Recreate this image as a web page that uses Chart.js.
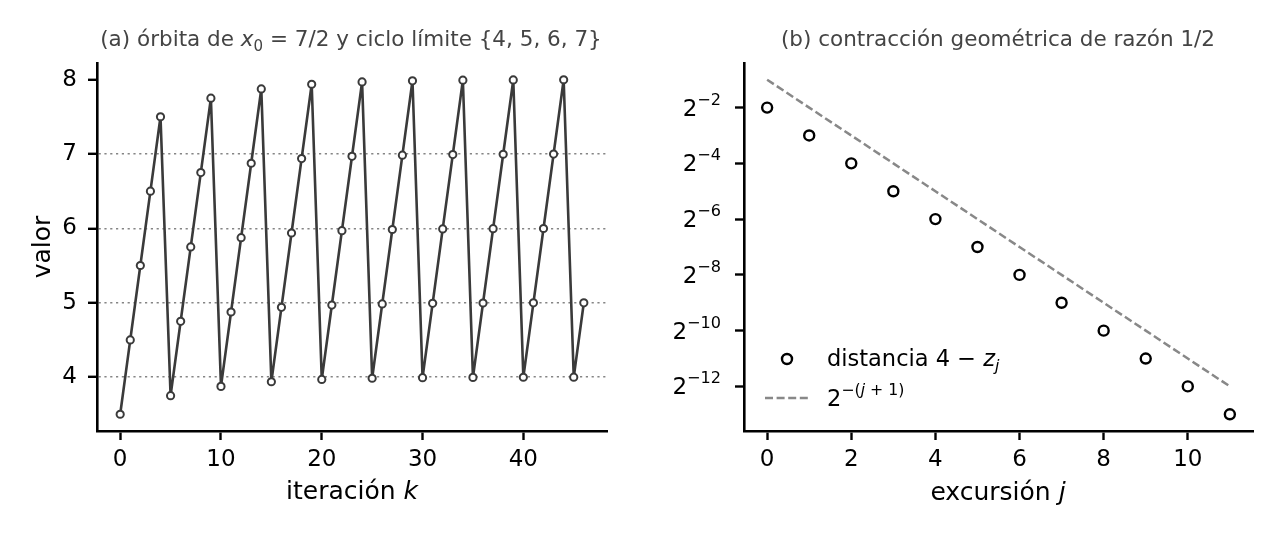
<!DOCTYPE html>
<html>
<head>
<meta charset="utf-8">
<script src="https://cdn.jsdelivr.net/npm/chart.js@4.4.0/dist/chart.umd.min.js"></script>
<style>
  html, body { margin: 0; padding: 0; background: #fff; }
  #wrap { position: relative; width: 1280px; height: 540px; }
  canvas { position: absolute; top: 0; }
  #izq { left: 0; }
  #der { left: 640px; }
</style>
</head>
<body>
<div id="wrap">
  <canvas id="izq" width="640" height="540"></canvas>
  <canvas id="der" width="640" height="540"></canvas>
</div>
<script>
// (a) órbita
const iteraciones = [0, 1, 2, 3, 4, 5, 6, 7, 8, 9, 10, 11, 12, 13, 14, 15, 16, 17, 18, 19, 20, 21, 22, 23,
  24, 25, 26, 27, 28, 29, 30, 31, 32, 33, 34, 35, 36, 37, 38, 39, 40, 41, 42, 43, 44, 45, 46];
const orbita = [
  3.5, 4.5, 5.5, 6.5, 7.5,
  3.75, 4.75, 5.75, 6.75, 7.75,
  3.875, 4.875, 5.875, 6.875, 7.875,
  3.9375, 4.9375, 5.9375, 6.9375, 7.9375,
  3.96875, 4.96875, 5.96875, 6.96875, 7.96875,
  3.984, 4.984, 5.984, 6.984, 7.984,
  3.992, 4.992, 5.992, 6.992, 7.992,
  3.996, 4.996, 5.996, 6.996, 7.996,
  3.998, 4.998, 5.998, 6.998, 7.998,
  3.999, 4.999
];
const nivelesCiclo = [4, 5, 6, 7];
const ticksValor = [4, 5, 6, 7, 8];
const ticksIter = [0, 10, 20, 30, 40];

// (b) contracción
const excursiones = [0, 1, 2, 3, 4, 5, 6, 7, 8, 9, 10, 11];
const distancias = [0.25, 0.125, 0.0625, 0.03125, 0.015625, 0.0078125, 0.00390625,
  0.001953125, 0.0009765625, 0.00048828125, 0.000244140625, 0.0001220703125];
const cotaRef = [0.5, 0.25, 0.125, 0.0625, 0.03125, 0.015625, 0.0078125, 0.00390625,
  0.001953125, 0.0009765625, 0.00048828125, 0.000244140625];
const ticksExc = [0, 2, 4, 6, 8, 10];
const expTicks = [-2, -4, -6, -8, -10, -12];

const FAM = '"DejaVu Sans"';
Chart.defaults.font.family = FAM;
Chart.defaults.color = '#000';

// texto con cursiva / subíndices / superíndices
function fuente(ctx, r, size) {
  const s = (r.sub || r.sup) ? size * 0.7 : size;
  ctx.font = (r.it ? 'italic ' : '') + s + 'px ' + FAM;
}
function drawRuns(ctx, runs, x, y, size, color, align) {
  ctx.save();
  ctx.fillStyle = color;
  ctx.textAlign = 'left';
  ctx.textBaseline = 'alphabetic';
  let w = 0;
  runs.forEach(r => { fuente(ctx, r, size); w += ctx.measureText(r.t).width; });
  let cx = align === 'center' ? x - w / 2 : (align === 'right' ? x - w : x);
  runs.forEach(r => {
    fuente(ctx, r, size);
    const dy = r.sub ? size * 0.22 : (r.sup ? -size * 0.48 : 0);
    ctx.fillText(r.t, cx, y + dy);
    cx += ctx.measureText(r.t).width;
  });
  ctx.restore();
}
function textos(ctx, items) {
  items.forEach(it => {
    ctx.save();
    ctx.translate(it.x, it.y);
    if (it.rot) ctx.rotate(it.rot);
    drawRuns(ctx, it.runs, 0, 0, it.size, it.color || '#000', it.align || 'center');
    ctx.restore();
  });
}

const ejeX = (min, max, ticks) => ({
  type: 'linear', min: min, max: max,
  afterBuildTicks: s => { s.ticks = ticks.map(v => ({ value: v })); },
  afterFit: s => { s.height = 109; },
  grid: { drawOnChartArea: false, tickLength: 9, tickWidth: 2.4, tickColor: '#000' },
  border: { color: '#000', width: 2.6 },
  ticks: { font: { size: 23 }, color: '#000', padding: 6, maxRotation: 0, autoSkip: false }
});

new Chart(document.getElementById('izq'), {
  type: 'line',
  data: {
    datasets: [{
      data: iteraciones.map((k, i) => ({ x: k, y: orbita[i] })),
      borderColor: '#3a3a3a',
      borderWidth: 2.6,
      pointRadius: 3.6,
      pointBorderWidth: 2,
      pointBorderColor: '#3a3a3a',
      pointBackgroundColor: '#fff',
      tension: 0
    }]
  },
  options: {
    responsive: false, animation: false, devicePixelRatio: 1,
    layout: { padding: { left: 0, right: 33, top: 63, bottom: 0 } },
    plugins: { legend: { display: false }, tooltip: { enabled: false } },
    scales: {
      x: ejeX(-2.3, 48.3, ticksIter),
      y: {
        min: 3.275, max: 8.223,
        afterBuildTicks: s => { s.ticks = ticksValor.map(v => ({ value: v })); },
        afterFit: s => { s.width = 97; },
        grid: {
          color: c => (c.tick && nivelesCiclo.includes(c.tick.value)) ? '#858585' : 'rgba(0,0,0,0)',
          lineWidth: 1.6, tickLength: 9, tickWidth: 2.4, tickColor: '#000'
        },
        border: { color: '#000', width: 2.6, dash: [2.2, 3.6] },
        ticks: { font: { size: 23 }, color: '#000', padding: 11 }
      }
    }
  },
  plugins: [{
    id: 'textosIzq',
    afterDraw(chart) {
      textos(chart.ctx, [
        { x: 351, y: 46, size: 21.5, color: '#444', runs: [
          { t: '(a) órbita de ' }, { t: 'x', it: true }, { t: '0', sub: true },
          { t: ' = 7/2 y ciclo límite {4, 5, 6, 7}' }] },
        { x: 352, y: 499, size: 25, runs: [{ t: 'iteración ' }, { t: 'k', it: true }] },
        { x: 50, y: 247, size: 25, rot: -Math.PI / 2, runs: [{ t: 'valor' }] }
      ]);
    }
  }]
});

new Chart(document.getElementById('der'), {
  type: 'scatter',
  data: {
    datasets: [{
      data: excursiones.map((j, i) => ({ x: j, y: distancias[i] })),
      pointRadius: 5,
      pointBorderWidth: 2.4,
      pointBorderColor: '#000',
      pointBackgroundColor: 'rgba(0,0,0,0)'
    }, {
      data: excursiones.map((j, i) => ({ x: j, y: cotaRef[i] })),
      showLine: true,
      borderColor: '#888',
      borderWidth: 2.5,
      borderDash: [8, 3.6],
      pointRadius: 0
    }]
  },
  options: {
    responsive: false, animation: false, devicePixelRatio: 1,
    layout: { padding: { left: 0, right: 27, top: 63, bottom: 0 } },
    plugins: { legend: { display: false }, tooltip: { enabled: false } },
    scales: {
      x: ejeX(-0.55, 11.55, ticksExc),
      y: {
        type: 'logarithmic',
        min: Math.pow(2, -13.6), max: Math.pow(2, -0.4),
        afterBuildTicks: s => { s.ticks = expTicks.map(e => ({ value: Math.pow(2, e) })); },
        afterFit: s => { s.width = 104; },
        grid: { drawOnChartArea: false, tickLength: 9, tickWidth: 2.4, tickColor: '#000' },
        border: { color: '#000', width: 2.6 },
        ticks: { display: false }
      }
    }
  },
  plugins: [{
    id: 'textosDer',
    afterDraw(chart) {
      const ctx = chart.ctx;
      const ys = chart.scales.y;
      const left = chart.chartArea.left;
      expTicks.forEach(e => {
        const py = ys.getPixelForValue(Math.pow(2, e));
        drawRuns(ctx, [{ t: '2' }, { t: '−' + (-e), sup: true }], left - 23, py + 8, 23, '#000', 'right');
      });
      // leyenda
      ctx.save();
      ctx.lineWidth = 2.4;
      ctx.strokeStyle = '#000';
      ctx.beginPath();
      ctx.arc(147, 359, 5, 0, Math.PI * 2);
      ctx.stroke();
      ctx.strokeStyle = '#888';
      ctx.lineWidth = 2.5;
      ctx.setLineDash([8, 3.6]);
      ctx.beginPath();
      ctx.moveTo(125, 398);
      ctx.lineTo(170, 398);
      ctx.stroke();
      ctx.restore();
      textos(ctx, [
        { x: 187, y: 366, size: 22.5, align: 'left', runs: [
          { t: 'distancia 4 − ' }, { t: 'z', it: true }, { t: 'j', it: true, sub: true }] },
        { x: 187, y: 406, size: 22.5, align: 'left', runs: [
          { t: '2' }, { t: '−(', sup: true }, { t: 'j', it: true, sup: true }, { t: ' + 1)', sup: true }] },
        { x: 358, y: 46, size: 21.5, color: '#444', runs: [{ t: '(b) contracción geométrica de razón 1/2' }] },
        { x: 358, y: 500, size: 25, runs: [{ t: 'excursión ' }, { t: 'j', it: true }] },
        { x: 664, y: 247, size: 25, rot: -Math.PI / 2, runs: [
          { t: '4 − ' }, { t: 'z', it: true }, { t: 'j', it: true, sub: true }] }
      ]);
    }
  }]
});
</script>
</body>
</html>
